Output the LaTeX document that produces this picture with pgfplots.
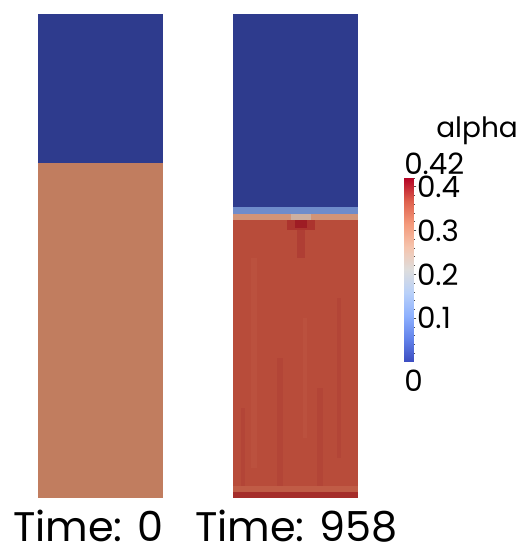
\documentclass[border=0pt]{standalone}
\usepackage{fontspec}
\setmainfont{Poppins}
\usepackage{pgfplots}
\pgfplotsset{compat=1.18}
\definecolor{cblue}{RGB}{46,59,141}
\definecolor{corange}{RGB}{193,125,95}
\definecolor{cred}{RGB}{184,76,58}
\definecolor{credb}{RGB}{179,69,55}
\definecolor{credc}{RGB}{187,81,62}
\definecolor{cdark}{RGB}{165,45,42}
\definecolor{cstripe}{RGB}{192,92,70}
\definecolor{clorange}{RGB}{210,148,120}
\definecolor{clblue}{RGB}{111,140,203}
\definecolor{cgreyish}{RGB}{205,175,160}
\definecolor{chalo}{RGB}{172,52,46}
\definecolor{cspot}{RGB}{158,28,36}
\definecolor{ctrail}{RGB}{175,62,52}
\newcommand\rect[5]{\addplot[fill=#1,draw=none,forget plot] coordinates {(#2,#3) (#4,#3) (#4,#5) (#2,#5)} -- cycle;}
\pgfplotsset{panel/.style={scale only axis, width=93.75pt, height=363pt, hide axis,
  xmin=0,xmax=125,ymin=0,ymax=484, clip=false}}
\begin{document}
\begin{tikzpicture}
\path[use as bounding box] (0pt,0pt) rectangle (399pt,412.5pt);
% left panel
\begin{axis}[panel, at={(28.5pt,39pt)}, anchor=south west]
\rect{corange}{0}{0}{125}{335}
\rect{cblue}{0}{335}{125}{484}
\end{axis}
% right panel
\begin{axis}[panel, at={(174.75pt,39pt)}, anchor=south west]
\rect{cdark}{0}{0}{125}{6}
\rect{cstripe}{0}{6}{125}{12}
\rect{cred}{0}{12}{125}{278}
\rect{credb}{44}{12}{50}{140}
\rect{credc}{18}{30}{24}{240}
\rect{credb}{84}{12}{90}{110}
\rect{credb}{104}{40}{108}{200}
\rect{credc}{70}{60}{74}{180}
\rect{credb}{8}{12}{12}{90}
\rect{ctrail}{64}{240}{72}{270}
\rect{chalo}{54}{268}{82}{278}
\rect{cspot}{62}{270}{74}{278}
\rect{clorange}{0}{278}{125}{284}
\rect{cgreyish}{58}{278}{78}{284}
\rect{clblue}{0}{284}{125}{291}
\rect{cblue}{0}{291}{125}{484}
\end{axis}
% colorbar
\begin{axis}[scale only axis, width=6.75pt, height=138pt, at={(303pt,141pt)}, anchor=south west,
  xmin=0,xmax=1,ymin=0,ymax=0.42, clip=false,
  colormap={cw}{rgb255=(59,76,192) rgb255=(98,130,234) rgb255=(141,176,254) rgb255=(184,208,249) rgb255=(221,221,221) rgb255=(245,196,173) rgb255=(244,154,123) rgb255=(222,96,77) rgb255=(180,4,38)},
  point meta min=0, point meta max=0.42,
  axis line style={draw=none}, xtick=\empty,
  ytick={0.1,0.2,0.3,0.4}, minor ytick={0.02,0.04,0.06,0.08,0.12,0.14,0.16,0.18,0.22,0.24,0.26,0.28,0.32,0.34,0.36,0.38,0.42},
  ytick pos=right, yticklabel pos=right, tick align=center,
  major tick length=5pt, minor tick length=3pt,
  every tick/.style={black!70, line width=0.6pt},
  yticklabel style={font=\fontsize{22}{22}\selectfont, anchor=west, xshift=-3pt},
  /pgf/number format/assume math mode=true,
  yticklabel={\pgfmathprintnumber[fixed,precision=1]{\tick}}]
\addplot[surf, shader=interp, point meta=explicit, mesh/cols=2] coordinates {
(0,0) [0] (1,0) [0]
(0,0.105) [0.105] (1,0.105) [0.105]
(0,0.21) [0.21] (1,0.21) [0.21]
(0,0.315) [0.315] (1,0.315) [0.315]
(0,0.42) [0.42] (1,0.42) [0.42]
};
\node[anchor=south west, inner sep=0pt, font=\fontsize{22}{22}\selectfont] at (axis description cs:0,1) [yshift=2pt] {0.42};
\node[anchor=north west, inner sep=0pt, font=\fontsize{22}{22}\selectfont] at (axis description cs:0,0) [yshift=-6pt] {0};
\end{axis}
\node[anchor=base west, inner sep=0pt, text depth=0pt, font=\fontsize{21}{21}\selectfont] at (327pt,309pt) {alpha};
\node[anchor=base west, inner sep=0pt, text depth=0pt, font=\fontsize{31}{31}\selectfont] at (9.75pt,6.5pt) {Time: 0};
\node[anchor=base west, inner sep=0pt, text depth=0pt, font=\fontsize{31}{31}\selectfont] at (146.25pt,6.5pt) {Time: 958};
\end{tikzpicture}
\end{document}
